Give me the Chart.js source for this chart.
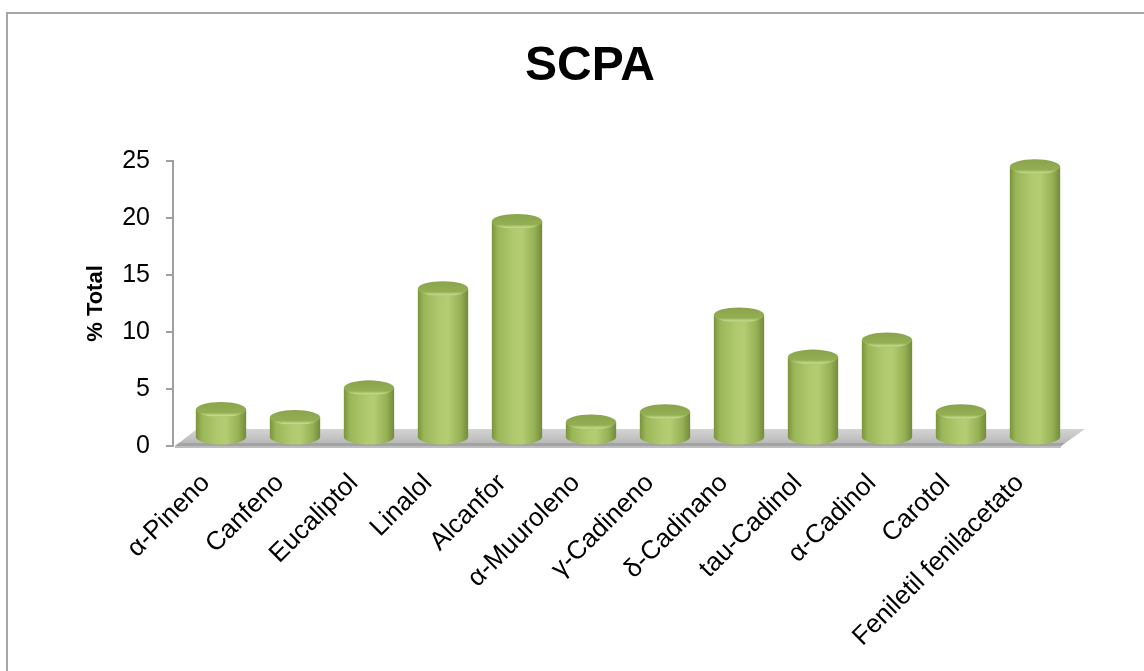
<!DOCTYPE html>
<html>
<head>
<meta charset="utf-8">
<script src="https://cdn.jsdelivr.net/npm/chart.js@4.4.1/dist/chart.umd.min.js"></script>
<style>
  html, body { margin: 0; padding: 0; background: #fff; }
  #wrap { position: relative; width: 1144px; height: 671px; overflow: hidden; }
  #frame { position: absolute; left: 6px; top: 12px; width: 1200px; height: 700px;
           border-left: 2px solid #a6a6a6; border-top: 2px solid #a6a6a6; box-sizing: border-box; }
  canvas { position: absolute; left: 0; top: 0; }
</style>
</head>
<body>
<div id="wrap">
  <div id="frame"></div>
  <canvas id="c" width="1144" height="671"></canvas>
</div>
<script>
const categories = ['α-Pineno', 'Canfeno', 'Eucaliptol', 'Linalol', 'Alcanfor', 'α-Muuroleno',
                    'γ-Cadineno', 'δ-Cadinano', 'tau-Cadinol', 'α-Cadinol', 'Carotol', 'Feniletil fenilacetato'];
const totals = [2.5, 1.8, 4.4, 13.1, 19.0, 1.4, 2.3, 10.8, 7.1, 8.6, 2.3, 23.8];
const yTicks = [0, 5, 10, 15, 20, 25];
const chartTitle = 'SCPA';
const yTitle = '% Total';

const DEPTH_X = 22, DEPTH_Y = 17;   // 3D floor depth
const MID_X = 11, MID_Y = 8;        // bars sit at mid depth
const FONT = '"Liberation Sans", Arial, sans-serif';

const floorPlugin = {
  id: 'floor3d',
  beforeDatasetsDraw(chart) {
    const ctx = chart.ctx;
    const ys = chart.scales.y, xs = chart.scales.x;
    const y0 = ys.getPixelForValue(0);
    const L = xs.left + 2, R = xs.right;
    ctx.save();
    const g = ctx.createLinearGradient(0, y0 - DEPTH_Y, 0, y0);
    g.addColorStop(0, '#d4d4d4');
    g.addColorStop(1, '#b4b4b4');
    ctx.beginPath();
    ctx.moveTo(L, y0);
    ctx.lineTo(L + DEPTH_X, y0 - DEPTH_Y);
    ctx.lineTo(R + DEPTH_X + 2, y0 - DEPTH_Y);
    ctx.lineTo(R, y0);
    ctx.closePath();
    ctx.fillStyle = g;
    ctx.fill();
    ctx.beginPath();
    ctx.moveTo(L, y0);
    ctx.lineTo(R, y0);
    ctx.lineTo(R + 4, y0 - 3);
    ctx.lineTo(L + 4, y0 - 3);
    ctx.closePath();
    ctx.fillStyle = '#a3a3a3';
    ctx.fill();
    ctx.beginPath();
    ctx.moveTo(L, y0 + 1);
    ctx.lineTo(R, y0 + 1);
    ctx.strokeStyle = '#bdbdbd';
    ctx.lineWidth = 2;
    ctx.stroke();
    ctx.restore();
  }
};

const cylinderPlugin = {
  id: 'cylinders',
  beforeDatasetDraw(chart, args) {
    const ctx = chart.ctx;
    const meta = args.meta;
    ctx.save();
    meta.data.forEach(el => {
      const p = el.getProps(['x', 'y', 'base', 'width'], true);
      const cx = p.x + MID_X;
      const rx = p.width / 2;
      const ry = 7.5;
      const topY = p.y - MID_Y;
      const botY = p.base - MID_Y;
      const g = ctx.createLinearGradient(cx - rx, 0, cx + rx, 0);
      g.addColorStop(0, '#7a933d');
      g.addColorStop(0.12, '#9ab657');
      g.addColorStop(0.45, '#b1ca6f');
      g.addColorStop(0.6, '#b4cc72');
      g.addColorStop(0.85, '#96b054');
      g.addColorStop(1, '#738b39');
      ctx.beginPath();
      ctx.moveTo(cx - rx, topY);
      ctx.lineTo(cx - rx, botY);
      ctx.ellipse(cx, botY, rx, ry, 0, Math.PI, 0, true);
      ctx.lineTo(cx + rx, topY);
      ctx.closePath();
      ctx.fillStyle = g;
      ctx.fill();
      const tg = ctx.createLinearGradient(0, topY - ry, 0, topY + ry);
      tg.addColorStop(0, '#8aa44c');
      tg.addColorStop(0.7, '#93ae52');
      tg.addColorStop(0.9, '#c2d88a');
      tg.addColorStop(1, '#a9c266');
      ctx.beginPath();
      ctx.ellipse(cx, topY, rx, ry, 0, 0, Math.PI * 2);
      ctx.fillStyle = tg;
      ctx.fill();
    });
    ctx.restore();
    return false;
  }
};

new Chart(document.getElementById('c'), {
  type: 'bar',
  data: {
    labels: categories,
    datasets: [{
      label: yTitle,
      data: totals,
      backgroundColor: '#9bbb59',
      categoryPercentage: 1,
      barPercentage: 0.68
    }]
  },
  options: {
    responsive: false,
    animation: false,
    devicePixelRatio: 1,
    layout: { padding: { left: 36, right: 0, top: 0, bottom: 0 } },
    plugins: {
      legend: { display: false },
      tooltip: { enabled: true },
      title: {
        display: true,
        text: chartTitle,
        color: '#000',
        font: { family: FONT, size: 48, weight: 'bold', lineHeight: 1.2 },
        padding: { top: 38, bottom: 65.4 }
      }
    },
    scales: {
      x: {
        grid: { display: false },
        border: { display: false },
        ticks: {
          color: '#000',
          font: { family: FONT, size: 26 },
          minRotation: 45,
          maxRotation: 45,
          autoSkip: false,
          padding: 14,
          labelOffset: -4
        },
        afterFit(scale) { scale.height = 225; }
      },
      y: {
        min: 0,
        max: 25,
        afterBuildTicks(scale) { scale.ticks = yTicks.map(v => ({ value: v })); },
        grid: { drawOnChartArea: false, drawTicks: true, tickLength: 7, color: '#a0a0a0', lineWidth: 2 },
        border: { display: true, color: '#a0a0a0', width: 2 },
        ticks: {
          color: '#000',
          font: { family: FONT, size: 25 },
          padding: 16
        },
        title: {
          display: true,
          text: yTitle,
          color: '#000',
          font: { family: FONT, size: 22, weight: 'bold', lineHeight: 1.2 },
          padding: { top: 47, bottom: 0 }
        },
        afterFit(scale) { scale.width = 137; }
      },
      yRight: {
        position: 'right',
        display: true,
        grid: { display: false },
        border: { display: false },
        ticks: { display: false },
        afterFit(scale) { scale.width = 83; }
      }
    }
  },
  plugins: [floorPlugin, cylinderPlugin]
});
</script>
</body>
</html>
